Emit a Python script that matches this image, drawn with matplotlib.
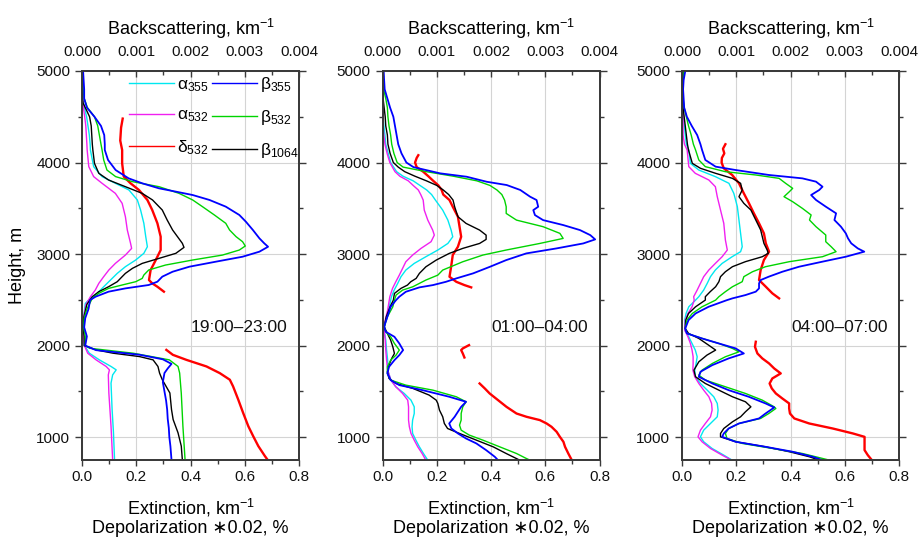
import matplotlib
matplotlib.use("Agg")
import matplotlib.pyplot as plt
from matplotlib.ticker import MultipleLocator
from matplotlib.lines import Line2D

plt.rcParams['font.family'] = ['Liberation Sans', 'DejaVu Sans']
plt.rcParams['mathtext.fontset'] = 'custom'
plt.rcParams['mathtext.rm'] = 'Liberation Sans'
plt.rcParams['mathtext.it'] = 'Liberation Sans:italic'
plt.rcParams['mathtext.bf'] = 'Liberation Sans:bold'

# ---- panel 1 : 19:00-23:00 ----
# extinction (km-1), depolarization*0.02 -> bottom axis ; backscatter in 1e-3 km-1 -> top axis
h_a355_1 = [5000, 4700, 4600, 4500, 4400, 4300, 4200, 4137, 3955, 3846, 3773, 3700, 3591, 3481, 3336, 3190, 3080, 3008,
            2935, 2862, 2789, 2716, 2643, 2571, 2516, 2460, 2300, 2200, 2100, 2000, 1917, 1844, 1772, 1735, 1680, 1590,
            1300, 1050, 750]
a355_1 = [0.002, 0.002, 0.009, 0.017, 0.022, 0.027, 0.030, 0.031, 0.043, 0.074, 0.123, 0.173, 0.204, 0.216, 0.228, 0.235,
          0.241, 0.228, 0.198, 0.160, 0.130, 0.105, 0.080, 0.056, 0.031, 0.012, 0.006, 0.005, 0.008, 0.009, 0.027, 0.064,
          0.107, 0.126, 0.113, 0.107, 0.111, 0.116, 0.120]
h_a532_1 = [5000, 4700, 4600, 4500, 4400, 4300, 4200, 4137, 3955, 3846, 3773, 3663, 3554, 3408, 3263, 3117, 3062, 2989,
            2898, 2826, 2753, 2680, 2607, 2534, 2450, 2300, 2200, 2100, 2000, 1917, 1844, 1772, 1735, 1680, 1482, 1120, 750]
a532_1 = [0.002, 0.002, 0.005, 0.010, 0.014, 0.016, 0.018, 0.019, 0.025, 0.043, 0.074, 0.123, 0.148, 0.160, 0.167, 0.179,
          0.183, 0.160, 0.123, 0.099, 0.080, 0.062, 0.049, 0.031, 0.015, 0.005, 0.004, 0.006, 0.009, 0.021, 0.052, 0.089,
          0.101, 0.097, 0.099, 0.107, 0.113]
h_b355_1 = [5000, 4800, 4700, 4600, 4500, 4400, 4300, 4200, 4137, 4028, 3918, 3827, 3773, 3718, 3682, 3645, 3591, 3518,
            3427, 3354, 3263, 3172, 3117, 3080, 3026, 2971, 2917, 2862, 2807, 2753, 2698, 2662, 2625, 2589, 2534, 2498,
            2400, 2300, 2200, 2100, 2000, 1950, 1900, 1850, 1800, 1750, 1700, 1600, 1500, 1400, 1300, 1200, 1100, 1000,
            900, 750]
b355_1 = [0.02, 0.04, 0.04, 0.09, 0.23, 0.35, 0.41, 0.42, 0.42, 0.48, 0.62, 0.86, 1.11, 1.42, 1.73, 2.04, 2.35, 2.65,
          2.90, 3.02, 3.15, 3.27, 3.36, 3.43, 3.27, 2.96, 2.47, 1.98, 1.67, 1.48, 1.39, 1.23, 0.80, 0.49, 0.25, 0.15,
          0.12, 0.06, 0.04, 0.09, 0.06, 0.26, 1.06, 1.49, 1.65, 1.58, 1.52, 1.49, 1.52, 1.55, 1.57, 1.58, 1.60, 1.61,
          1.63, 1.65]
h_b532_1 = [5000, 4800, 4700, 4600, 4500, 4400, 4300, 4200, 4137, 4028, 3918, 3846, 3791, 3736, 3663, 3591, 3518, 3427,
            3336, 3263, 3190, 3135, 3088, 3044, 2989, 2935, 2880, 2826, 2771, 2734, 2698, 2662, 2625, 2571, 2516, 2400,
            2300, 2200, 2100, 2000, 1971, 1917, 1844, 1772, 1700, 1480, 1120, 750]
b532_1 = [0.01, 0.02, 0.04, 0.10, 0.23, 0.29, 0.32, 0.35, 0.37, 0.40, 0.46, 0.62, 0.93, 1.42, 1.79, 2.04, 2.22, 2.44,
          2.65, 2.72, 2.84, 2.96, 3.01, 2.90, 2.59, 2.04, 1.54, 1.23, 1.14, 1.11, 0.99, 0.74, 0.49, 0.31, 0.19, 0.09,
          0.04, 0.03, 0.06, 0.06, 0.14, 0.94, 1.61, 1.77, 1.80, 1.83, 1.86, 1.90]
h_b1064_1 = [5000, 4700, 4650, 4600, 4500, 4400, 4300, 4200, 4137, 3991, 3882, 3809, 3736, 3663, 3591, 3481, 3372, 3263,
             3190, 3117, 3073, 3008, 2953, 2898, 2844, 2789, 2753, 2698, 2643, 2589, 2534, 2450, 2300, 2200, 2100, 2000,
             1953, 1917, 1880, 1844, 1772, 1699, 1627, 1482, 1301, 1192, 1047, 902, 750]
b1064_1 = [0.01, 0.01, 0.02, 0.06, 0.14, 0.17, 0.18, 0.19, 0.20, 0.23, 0.31, 0.49, 0.80, 1.11, 1.30, 1.48, 1.57, 1.67,
           1.76, 1.85, 1.88, 1.73, 1.42, 1.11, 0.93, 0.80, 0.74, 0.65, 0.49, 0.31, 0.19, 0.09, 0.03, 0.02, 0.04, 0.04,
           0.26, 0.57, 1.06, 1.31, 1.40, 1.43, 1.48, 1.62, 1.65, 1.68, 1.77, 1.83, 1.85]
h_d532_1a = [4480, 4380, 4240, 4137, 3991, 3846, 3773, 3700, 3591, 3481, 3336, 3190, 3044, 2935, 2826, 2716, 2680, 2643, 2589]
d532_1a = [0.150, 0.144, 0.141, 0.148, 0.148, 0.154, 0.179, 0.210, 0.241, 0.259, 0.278, 0.290, 0.290, 0.272, 0.253,
           0.247, 0.259, 0.278, 0.302]
h_d532_1b = [1953, 1899, 1844, 1772, 1699, 1627, 1554, 1410, 1265, 1120, 1011, 902, 794, 757]
d532_1b = [0.311, 0.335, 0.385, 0.459, 0.508, 0.545, 0.557, 0.576, 0.594, 0.613, 0.631, 0.650, 0.674, 0.683]

# ---- panel 2 : 01:00-04:00 ----
h_a355_2 = [5000, 4500, 4400, 4300, 4200, 4100, 4000, 3900, 3850, 3800, 3750, 3700, 3650, 3590, 3480, 3371, 3262, 3189,
            3116, 3044, 2971, 2898, 2825, 2752, 2679, 2606, 2534, 2388, 2278, 2169, 2060, 1951, 1841, 1732, 1623, 1550,
            1477, 1404, 1331, 1258, 1186, 1113, 1040, 967, 894, 821, 748]
a355_2 = [0.002, 0.002, 0.005, 0.009, 0.012, 0.021, 0.030, 0.052, 0.076, 0.113, 0.138, 0.163, 0.181, 0.195, 0.222, 0.241,
          0.253, 0.259, 0.241, 0.204, 0.160, 0.117, 0.086, 0.068, 0.056, 0.043, 0.033, 0.022, 0.012, 0.006, 0.012, 0.015,
          0.019, 0.019, 0.031, 0.049, 0.080, 0.105, 0.117, 0.117, 0.111, 0.109, 0.111, 0.123, 0.136, 0.151, 0.167]
h_a532_2 = [5000, 4400, 4300, 4200, 4100, 4000, 3900, 3850, 3800, 3750, 3700, 3650, 3590, 3480, 3371, 3262, 3207, 3135,
            3062, 2989, 2916, 2843, 2770, 2697, 2625, 2534, 2388, 2278, 2169, 2060, 1951, 1841, 1732, 1623, 1550, 1477,
            1404, 1331, 1258, 1186, 1113, 1040, 967, 894, 821, 748]
a532_2 = [0.002, 0.002, 0.005, 0.009, 0.017, 0.027, 0.046, 0.064, 0.095, 0.113, 0.132, 0.141, 0.150, 0.154, 0.167, 0.185,
          0.191, 0.179, 0.142, 0.111, 0.086, 0.074, 0.062, 0.049, 0.037, 0.027, 0.019, 0.010, 0.006, 0.010, 0.012, 0.015,
          0.019, 0.031, 0.049, 0.074, 0.093, 0.096, 0.096, 0.096, 0.099, 0.105, 0.117, 0.130, 0.146, 0.160]
h_b355_2 = [5000, 4800, 4700, 4600, 4500, 4400, 4300, 4200, 4100, 4000, 3950, 3882, 3845, 3790, 3754, 3700, 3627, 3590,
            3517, 3480, 3426, 3371, 3317, 3262, 3207, 3160, 3116, 3062, 3007, 2934, 2861, 2789, 2734, 2697, 2661, 2636,
            2588, 2534, 2497, 2424, 2315, 2206, 2151, 2096, 2023, 1951, 1896, 1841, 1768, 1696, 1623, 1568, 1513, 1441,
            1386, 1331, 1277, 1222, 1149, 1094, 1040, 985, 931, 858, 785, 748]
b355_2 = [0.02, 0.04, 0.09, 0.14, 0.20, 0.23, 0.26, 0.29, 0.35, 0.44, 0.57, 1.06, 1.55, 1.92, 2.29, 2.54, 2.72, 2.84,
          2.87, 2.78, 2.81, 2.96, 3.33, 3.64, 3.83, 3.92, 3.70, 3.21, 2.65, 2.28, 1.98, 1.67, 1.36, 1.17, 0.93, 0.68,
          0.43, 0.31, 0.25, 0.15, 0.09, 0.03, 0.06, 0.22, 0.31, 0.38, 0.31, 0.22, 0.12, 0.09, 0.15, 0.31, 0.74, 1.23,
          1.54, 1.45, 1.39, 1.33, 1.23, 1.27, 1.39, 1.54, 1.73, 1.91, 2.07, 2.13]
h_b532_2 = [5000, 4800, 4700, 4600, 4500, 4400, 4300, 4200, 4100, 4000, 3950, 3900, 3850, 3800, 3750, 3700, 3650, 3590,
            3517, 3444, 3371, 3299, 3226, 3171, 3116, 3044, 2989, 2916, 2825, 2770, 2716, 2643, 2606, 2552, 2497, 2424,
            2315, 2206, 2151, 2096, 2023, 1951, 1896, 1841, 1768, 1696, 1623, 1568, 1513, 1441, 1386, 1331, 1258, 1186,
            1131, 1076, 1022, 967, 894, 821, 767, 748]
b532_2 = [0.01, 0.02, 0.06, 0.09, 0.10, 0.12, 0.15, 0.17, 0.21, 0.27, 0.38, 0.81, 1.31, 1.74, 1.98, 2.11, 2.20, 2.25,
          2.28, 2.28, 2.47, 2.96, 3.27, 3.33, 2.90, 2.28, 1.85, 1.48, 1.11, 1.02, 0.80, 0.56, 0.37, 0.25, 0.22, 0.19,
          0.09, 0.03, 0.06, 0.15, 0.22, 0.31, 0.25, 0.15, 0.09, 0.09, 0.15, 0.43, 0.93, 1.36, 1.54, 1.48, 1.45, 1.45,
          1.42, 1.45, 1.60, 1.85, 2.16, 2.47, 2.65, 2.72]
h_b1064_2 = [5000, 4700, 4600, 4500, 4400, 4300, 4200, 4100, 4000, 3950, 3900, 3850, 3800, 3750, 3700, 3650, 3590, 3517,
             3408, 3335, 3262, 3207, 3160, 3116, 3062, 3007, 2934, 2861, 2789, 2734, 2697, 2661, 2625, 2570, 2497, 2424,
             2315, 2206, 2133, 2060, 1987, 1914, 1860, 1787, 1714, 1641, 1586, 1532, 1459, 1404, 1368, 1295, 1222, 1149,
             1094, 1040, 967, 894, 821, 748]
b1064_2 = [0.01, 0.01, 0.03, 0.05, 0.06, 0.09, 0.10, 0.14, 0.20, 0.29, 0.41, 0.60, 0.81, 1.00, 1.12, 1.22, 1.30, 1.33,
           1.39, 1.54, 1.79, 1.91, 1.91, 1.79, 1.48, 1.23, 0.99, 0.80, 0.68, 0.62, 0.52, 0.46, 0.34, 0.22, 0.20, 0.14,
           0.07, 0.03, 0.09, 0.15, 0.19, 0.22, 0.17, 0.12, 0.09, 0.12, 0.25, 0.56, 0.86, 0.99, 1.02, 1.05, 1.11, 1.14,
           1.20, 1.42, 1.73, 2.04, 2.28, 2.53]
h_d532_2a = [4080, 4050, 4000, 3950, 3900, 3850, 3800, 3750, 3700, 3650, 3590, 3517, 3408, 3299, 3189, 3080, 2989, 2861,
             2752, 2697, 2661, 2636]
d532_2a = [0.132, 0.126, 0.120, 0.126, 0.150, 0.169, 0.187, 0.206, 0.218, 0.224, 0.247, 0.259, 0.278, 0.284, 0.290,
           0.278, 0.259, 0.253, 0.247, 0.272, 0.302, 0.327]
h_d532_2b = [2005, 1969, 1951, 1914, 1870]
d532_2b = [0.319, 0.296, 0.290, 0.296, 0.302]
h_d532_2c = [1586, 1532, 1477, 1404, 1331, 1258, 1222, 1186, 1149, 1113, 1058, 1003, 949, 894, 821, 748]
d532_2c = [0.358, 0.377, 0.395, 0.426, 0.457, 0.494, 0.531, 0.580, 0.605, 0.623, 0.642, 0.654, 0.667, 0.673, 0.685, 0.698]

# ---- panel 3 : 04:00-07:00 ----
h_a355_3 = [5000, 4500, 4400, 4300, 4200, 4137, 3991, 3918, 3846, 3773, 3663, 3518, 3372, 3226, 3080, 3026, 2971, 2898,
            2826, 2753, 2680, 2607, 2534, 2497, 2424, 2351, 2278, 2169, 2096, 2023, 1951, 1878, 1805, 1732, 1659, 1586,
            1513, 1441, 1368, 1295, 1222, 1149, 1076, 1003, 949, 876, 803, 748]
a355_3 = [0.004, 0.004, 0.009, 0.012, 0.016, 0.025, 0.031, 0.062, 0.123, 0.173, 0.191, 0.204, 0.210, 0.216, 0.222, 0.216,
          0.185, 0.148, 0.123, 0.105, 0.093, 0.080, 0.062, 0.050, 0.025, 0.015, 0.010, 0.010, 0.025, 0.037, 0.049, 0.056,
          0.052, 0.047, 0.049, 0.068, 0.093, 0.117, 0.130, 0.133, 0.130, 0.105, 0.080, 0.068, 0.080, 0.111, 0.154, 0.185]
h_a532_3 = [5000, 4300, 4200, 4137, 3955, 3882, 3809, 3736, 3627, 3481, 3336, 3153, 3044, 2971, 2898, 2826, 2753, 2680,
            2607, 2534, 2497, 2424, 2351, 2278, 2169, 2096, 2023, 1951, 1878, 1805, 1732, 1659, 1586, 1513, 1441, 1368,
            1295, 1222, 1149, 1076, 1003, 949, 876, 803, 748]
a532_3 = [0.004, 0.004, 0.009, 0.019, 0.025, 0.049, 0.099, 0.123, 0.130, 0.142, 0.154, 0.160, 0.167, 0.148, 0.123, 0.099,
          0.080, 0.068, 0.056, 0.043, 0.045, 0.037, 0.022, 0.012, 0.010, 0.022, 0.031, 0.037, 0.041, 0.041, 0.040, 0.047,
          0.062, 0.080, 0.099, 0.109, 0.111, 0.105, 0.086, 0.068, 0.059, 0.074, 0.105, 0.148, 0.183]
h_b355_3 = [5000, 4900, 4800, 4700, 4600, 4500, 4400, 4300, 4200, 4137, 4028, 3955, 3918, 3864, 3827, 3791, 3736, 3700,
            3645, 3591, 3518, 3445, 3372, 3299, 3226, 3172, 3117, 3062, 3026, 2971, 2917, 2862, 2807, 2753, 2716, 2680,
            2625, 2589, 2552, 2516, 2497, 2424, 2351, 2278, 2187, 2133, 2078, 2023, 1969, 1914, 1860, 1787, 1714, 1659,
            1586, 1513, 1441, 1368, 1324, 1258, 1204, 1149, 1094, 1040, 1003, 949, 894, 840, 785, 748]
b355_3 = [0.06, 0.03, 0.02, 0.03, 0.04, 0.09, 0.18, 0.28, 0.34, 0.37, 0.43, 0.62, 0.99, 1.60, 2.22, 2.47, 2.59, 2.53,
          2.38, 2.47, 2.65, 2.84, 2.81, 2.93, 3.02, 3.06, 3.12, 3.24, 3.36, 3.02, 2.59, 2.16, 1.85, 1.60, 1.45, 1.42,
          1.42, 1.36, 1.17, 0.93, 0.83, 0.49, 0.25, 0.12, 0.06, 0.09, 0.37, 0.68, 0.99, 1.14, 0.86, 0.56, 0.34, 0.31,
          0.56, 0.86, 1.23, 1.54, 1.70, 1.54, 1.42, 1.05, 0.86, 0.77, 0.74, 0.99, 1.54, 2.04, 2.41, 2.59]
h_b532_3 = [5000, 4700, 4600, 4500, 4400, 4300, 4200, 4137, 4028, 3955, 3900, 3864, 3827, 3773, 3718, 3682, 3627, 3572,
            3499, 3427, 3372, 3299, 3208, 3135, 3080, 3026, 2971, 2917, 2862, 2807, 2753, 2698, 2643, 2589, 2534, 2497,
            2424, 2351, 2278, 2187, 2133, 2078, 2023, 1969, 1932, 1878, 1805, 1732, 1677, 1623, 1550, 1477, 1404, 1331,
            1313, 1258, 1204, 1149, 1094, 1040, 985, 931, 876, 821, 767, 748]
b532_3 = [0.02, 0.02, 0.04, 0.08, 0.12, 0.17, 0.21, 0.25, 0.31, 0.43, 0.80, 1.36, 1.79, 1.91, 2.04, 1.98, 1.88, 2.04,
          2.22, 2.38, 2.35, 2.47, 2.65, 2.65, 2.75, 2.84, 2.59, 1.98, 1.54, 1.30, 1.14, 1.11, 0.93, 0.80, 0.68, 0.62,
          0.37, 0.19, 0.09, 0.06, 0.09, 0.37, 0.68, 0.93, 1.05, 0.80, 0.56, 0.37, 0.31, 0.43, 0.80, 1.17, 1.48, 1.70,
          1.73, 1.60, 1.45, 1.05, 0.86, 0.80, 0.83, 1.11, 1.67, 2.22, 2.59, 2.72]
h_b1064_3 = [5000, 4600, 4500, 4400, 4300, 4200, 4137, 3991, 3937, 3882, 3827, 3773, 3700, 3627, 3554, 3481, 3408, 3336,
             3263, 3190, 3117, 3044, 3008, 2971, 2917, 2862, 2807, 2753, 2698, 2643, 2589, 2534, 2497, 2424, 2351, 2278,
             2187, 2133, 2078, 2005, 1951, 1896, 1823, 1732, 1659, 1586, 1513, 1441, 1386, 1331, 1277, 1222, 1167, 1094,
             1040, 1003, 949, 894, 840, 785, 748]
b1064_3 = [0.02, 0.02, 0.04, 0.06, 0.08, 0.10, 0.12, 0.19, 0.34, 0.62, 0.93, 1.08, 1.11, 1.05, 1.14, 1.27, 1.33, 1.39,
           1.45, 1.48, 1.51, 1.57, 1.59, 1.48, 1.17, 0.93, 0.80, 0.71, 0.68, 0.62, 0.52, 0.43, 0.43, 0.25, 0.12, 0.07,
           0.06, 0.12, 0.31, 0.49, 0.62, 0.46, 0.31, 0.22, 0.25, 0.43, 0.68, 0.93, 1.17, 1.27, 1.17, 1.08, 0.93, 0.77,
           0.71, 0.71, 0.99, 1.54, 1.98, 2.35, 2.53]
h_d532_3a = [4200, 4150, 4100, 4050, 4000, 3937, 3864, 3773, 3663, 3554, 3445, 3336, 3226, 3117, 3026, 2935, 2826, 2716,
             2643, 2571, 2516]
d532_3a = [0.160, 0.151, 0.156, 0.147, 0.146, 0.154, 0.185, 0.210, 0.228, 0.247, 0.265, 0.284, 0.302, 0.309, 0.321,
           0.302, 0.290, 0.284, 0.309, 0.333, 0.358]
h_d532_3b = [2042, 1987, 1914, 1860, 1805, 1750, 1696, 1641, 1586, 1532, 1477, 1422, 1368, 1313, 1258, 1204, 1149, 1094,
             1040, 1003, 967, 912, 858, 803, 756]
d532_3b = [0.272, 0.269, 0.278, 0.296, 0.321, 0.340, 0.364, 0.333, 0.323, 0.331, 0.346, 0.370, 0.395, 0.395, 0.398,
           0.414, 0.469, 0.556, 0.630, 0.673, 0.673, 0.673, 0.673, 0.685, 0.698]

time_labels = ['19:00\u201323:00', '01:00\u201304:00', '04:00\u201307:00']

C_A355 = '#00e8f0'
C_A532 = '#f020f0'
C_B355 = '#0000ff'
C_B532 = '#00d400'
C_D532 = '#ff0000'
C_B1064 = '#000000'
SPINE = '#3a3a3a'

panels = [
    dict(a355=(h_a355_1, a355_1), a532=(h_a532_1, a532_1),
         b355=(h_b355_1, b355_1), b532=(h_b532_1, b532_1), b1064=(h_b1064_1, b1064_1),
         d532=[(h_d532_1a, d532_1a), (h_d532_1b, d532_1b)]),
    dict(a355=(h_a355_2, a355_2), a532=(h_a532_2, a532_2),
         b355=(h_b355_2, b355_2), b532=(h_b532_2, b532_2), b1064=(h_b1064_2, b1064_2),
         d532=[(h_d532_2a, d532_2a), (h_d532_2b, d532_2b), (h_d532_2c, d532_2c)]),
    dict(a355=(h_a355_3, a355_3), a532=(h_a532_3, a532_3),
         b355=(h_b355_3, b355_3), b532=(h_b532_3, b532_3), b1064=(h_b1064_3, b1064_3),
         d532=[(h_d532_3a, d532_3a), (h_d532_3b, d532_3b)]),
]

fig = plt.figure(figsize=(9.21, 5.4), dpi=100)
lefts = [82 / 921, 382.5 / 921, 682 / 921]
W = 217 / 921
B = 80 / 540
H = 389 / 540

for i, p in enumerate(panels):
    ax = fig.add_axes([lefts[i], B, W, H])
    ax2 = ax.twiny()

    # extinction + depolarization on the bottom axis
    ax.plot(p['a355'][1], p['a355'][0], color=C_A355, lw=1.0)
    ax.plot(p['a532'][1], p['a532'][0], color=C_A532, lw=1.0)
    for hh, dd in p['d532']:
        ax.plot(dd, hh, color=C_D532, lw=1.7)

    # backscatter on the top axis (values given in 1e-3 km-1)
    for key, col, lw in [('b1064', C_B1064, 1.0), ('b532', C_B532, 1.0), ('b355', C_B355, 1.3)]:
        hh, bb = p[key]
        ax2.plot([v * 1e-3 for v in bb], hh, color=col, lw=lw)

    ax.set_xlim(0, 0.8)
    ax.set_ylim(750, 5000)
    ax2.set_xlim(0, 0.004)

    ax.xaxis.set_major_locator(MultipleLocator(0.2))
    ax.xaxis.set_minor_locator(MultipleLocator(0.1))
    ax.yaxis.set_major_locator(MultipleLocator(1000))
    ax.yaxis.set_minor_locator(MultipleLocator(500))
    ax2.xaxis.set_major_locator(MultipleLocator(0.001))
    ax2.xaxis.set_minor_locator(MultipleLocator(0.0005))
    ax2.xaxis.set_major_formatter(matplotlib.ticker.FormatStrFormatter('%.3f'))
    ax.xaxis.set_major_formatter(matplotlib.ticker.FormatStrFormatter('%.1f'))

    ax.grid(True, which='major', color='#d4d4d4', lw=0.8)
    ax.set_axisbelow(True)

    ax.tick_params(axis='x', which='both', direction='out', labelsize=11, colors=SPINE, labelcolor='#111111')
    ax.tick_params(axis='x', which='major', length=4, width=1.0)
    ax.tick_params(axis='x', which='minor', length=3, width=1.0)
    ax.tick_params(axis='y', which='both', direction='out', right=True, labelsize=11,
                   colors=SPINE, labelcolor='#111111')
    ax.tick_params(axis='y', which='major', length=5, width=1.0)
    ax.tick_params(axis='y', which='minor', length=3, width=1.0)
    ax2.tick_params(axis='x', which='both', direction='in', labelsize=11, colors=SPINE, labelcolor='#111111')
    ax2.tick_params(axis='x', which='major', length=4, width=1.0, pad=8.5)
    ax2.tick_params(axis='x', which='minor', length=3, width=1.0)

    for a in (ax, ax2):
        for s in a.spines.values():
            s.set_color(SPINE)
            s.set_linewidth(1.3)

    ax.set_xlabel('Extinction, km$^{-1}$\nDepolarization \u22170.02, %', fontsize=13, labelpad=9, linespacing=1.1)
    ax2.set_xlabel('Backscattering, km$^{-1}$', fontsize=13, labelpad=7)
    if i == 0:
        ax.set_ylabel('Height, m', fontsize=13, labelpad=7)

    ax.text(0.58, 2200, time_labels[i], fontsize=12.5, ha='center', va='center', color='#111111')

    if i == 0:
        handles = [Line2D([], [], color=C_A355, lw=1.0), Line2D([], [], color=C_A532, lw=1.0),
                   Line2D([], [], color=C_D532, lw=1.0), Line2D([], [], color=C_B355, lw=1.0),
                   Line2D([], [], color=C_B532, lw=1.0), Line2D([], [], color=C_B1064, lw=1.0)]
        labels = ['\u03b1$_{355}$', '\u03b1$_{532}$', '\u03b4$_{532}$',
                  '\u03b2$_{355}$', '\u03b2$_{532}$', '\u03b2$_{1064}$']
        ax2.legend(handles, labels, ncol=2, loc='upper left', bbox_to_anchor=(0.215, 0.99),
                   frameon=False, fontsize=12.5, handlelength=2.6, handletextpad=0.2,
                   columnspacing=0.15, labelspacing=0.8, borderaxespad=0, borderpad=0)

fig.savefig('out.png', dpi=100)
